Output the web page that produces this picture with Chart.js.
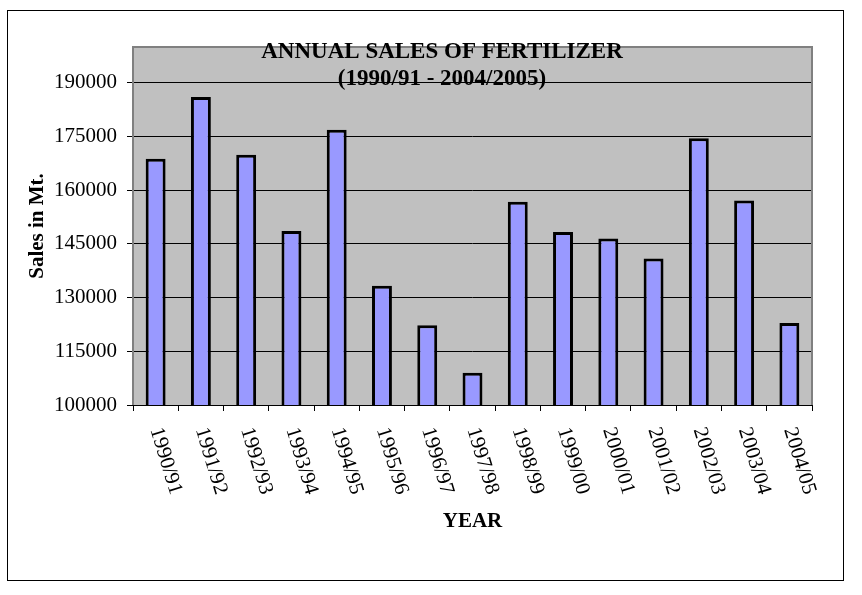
<!DOCTYPE html>
<html>
<head>
<meta charset="utf-8">
<script src="https://cdn.jsdelivr.net/npm/chart.js@4"></script>
<style>
  html, body { margin: 0; padding: 0; background: #fff; }
  #moldura { position: absolute; left: 7px; top: 10px; width: 835px; height: 569px; border: 1px solid #000; }
  #area { position: absolute; left: 0; top: 0; }
</style>
</head>
<body>
<div id="moldura"></div>
<div id="area"><canvas id="myChart" width="862" height="595"></canvas></div>
<script>
// dados do grafico
var anos = ['1990/91', '1991/92', '1992/93', '1993/94', '1994/95', '1995/96', '1996/97', '1997/98',
            '1998/99', '1999/00', '2000/01', '2001/02', '2002/03', '2003/04', '2004/05'];
var vendas = [168800, 186000, 169900, 148600, 176900, 133300, 122300, 109000,
              156800, 148300, 146500, 140900, 174500, 157100, 122900];
var yTicks = [100000, 115000, 130000, 145000, 160000, 175000, 190000];
var titulo = ['ANNUAL SALES OF FERTILIZER', '(1990/91 - 2004/2005)'];
var yMin = 100000;
var yMax = 200000;

var fonte = 'Liberation Serif';

// fundo cinza, borda e textos que o Chart.js nao posiciona assim
const enfeites = {
    id: 'enfeites',
    beforeDraw(chart) {
        const { ctx, chartArea: a } = chart;
        ctx.save();
        ctx.fillStyle = '#C0C0C0';
        ctx.fillRect(a.left, a.top, a.right - a.left, a.bottom - a.top);
        ctx.restore();
    },
    afterDatasetsDraw(chart) {
        const { ctx, chartArea: a } = chart;
        ctx.save();
        ctx.strokeStyle = '#808080';
        ctx.lineWidth = 2;
        ctx.beginPath();
        ctx.moveTo(a.left, a.bottom);
        ctx.lineTo(a.left, a.top);
        ctx.lineTo(a.right, a.top);
        ctx.lineTo(a.right, a.bottom);
        ctx.stroke();
        ctx.restore();
    },
    afterDraw(chart) {
        const { ctx, chartArea: a } = chart;
        const xs = chart.scales.x;
        ctx.save();
        ctx.fillStyle = '#000';
        // titulo
        ctx.font = 'bold 23px "' + fonte + '"';
        ctx.textAlign = 'center';
        ctx.textBaseline = 'middle';
        ctx.fillText(titulo[0], 442, a.top + 5);
        ctx.fillText(titulo[1], 442, a.top + 32);
        // rotulos do eixo x (girados no sentido horario)
        ctx.font = '21px "' + fonte + '"';
        ctx.textAlign = 'left';
        anos.forEach((ano, i) => {
            ctx.save();
            ctx.translate(xs.getPixelForValue(i), a.bottom + 23);
            ctx.rotate(73 * Math.PI / 180);
            ctx.fillText(ano, 0, 0);
            ctx.restore();
        });
        ctx.restore();
    }
};

const data = {
    labels: anos,
    datasets: [{
        label: 'Sales in Mt.',
        data: vendas,
        backgroundColor: '#9999FF',
        borderColor: '#000000',
        borderWidth: 3,
        barPercentage: 0.44,
        categoryPercentage: 1.0
    }]
};

const config = {
    type: 'bar',
    data: data,
    options: {
        responsive: false,
        animation: false,
        layout: { padding: { left: 0, top: 47, right: 50, bottom: 0 } },
        plugins: {
            legend: { display: false },
            tooltip: { enabled: false }
        },
        scales: {
            x: {
                offset: true,
                grid: { display: true, offset: true, drawOnChartArea: false, drawTicks: true,
                        tickLength: 6, tickColor: '#000', color: '#000' },
                border: { display: true, color: '#000', width: 1 },
                ticks: { display: false },
                title: { display: true, text: 'YEAR', color: '#000',
                         font: { family: fonte, size: 21, weight: 'bold' },
                         padding: { top: 0, bottom: 61 } },
                afterFit: function (s) { s.height = 190; }
            },
            y: {
                min: yMin,
                max: yMax,
                bounds: 'data',
                grid: { color: '#000', lineWidth: 1, drawTicks: true, tickLength: 6, tickColor: '#000' },
                border: { display: false },
                ticks: { color: '#000', padding: 10,
                         font: { family: fonte, size: 21 },
                         callback: function (v) { return String(v); } },
                afterBuildTicks: function (s) {
                    s.ticks = yTicks.map(v => ({ value: v }));
                },
                title: { display: true, text: 'Sales in Mt.', color: '#000',
                         font: { family: fonte, size: 21, weight: 'bold' },
                         padding: { top: 25, bottom: 0 } },
                afterFit: function (s) { s.width = 133; }
            }
        }
    },
    plugins: [enfeites]
};

const myChart = new Chart(document.getElementById('myChart'), config);
</script>
</body>
</html>
